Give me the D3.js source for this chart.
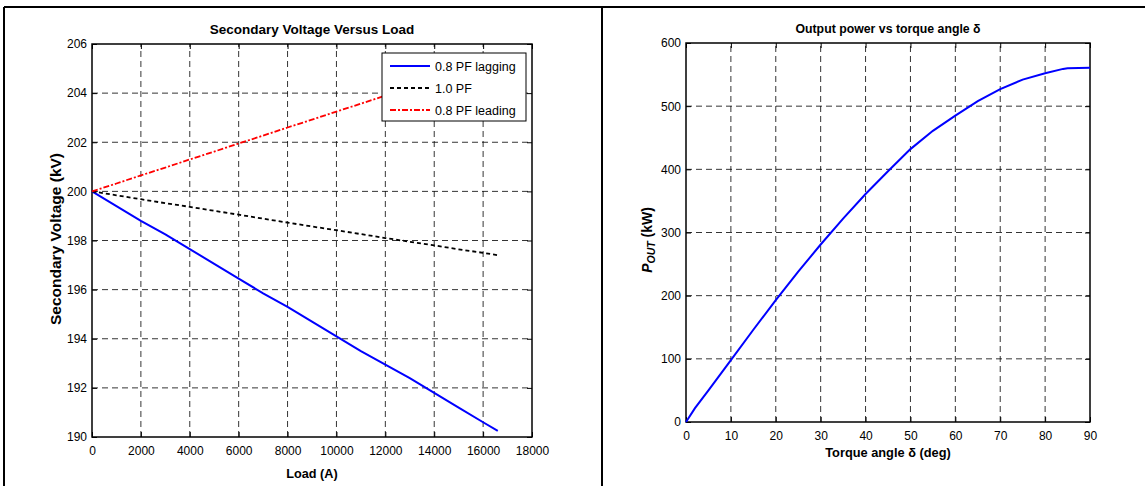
<!DOCTYPE html>
<html>
<head>
<meta charset="utf-8">
<script src="https://cdn.jsdelivr.net/npm/d3@7"></script>
<style>
  body{margin:0;background:#fff;}
  svg text{font-family:"Liberation Sans",Arial,sans-serif;}
</style>
</head>
<body>
<div id="chart"></div>
<script>
// left chart data (load in A, voltage in kV)
let loadVals=[0,1000,2000,3000,4000,5000,6000,7000,8000,9000,10000,11000,12000,13000,14000,15000,16000,16600];
let lagging=[200,199.4,198.8,198.25,197.65,197.05,196.45,195.85,195.3,194.7,194.1,193.5,192.95,192.4,191.8,191.2,190.6,190.25];
let unity=[200,199.84,199.68,199.52,199.37,199.21,199.05,198.89,198.73,198.57,198.42,198.26,198.1,197.95,197.8,197.64,197.5,197.4];
let leading=[200,200.32,200.65,200.97,201.3,201.62,201.95,202.27,202.6,202.92,203.25,203.57,203.9,204.2,204.5,204.8,205.15,205.35];
let loadTicks=[0,2000,4000,6000,8000,10000,12000,14000,16000,18000];
let voltTicks=[190,192,194,196,198,200,202,204,206];
let legendNames=["0.8 PF lagging","1.0 PF","0.8 PF leading"];

// right chart data (torque angle in deg, power in kW)
let deltaVals=[0,2,5,10,15,20,25,30,35,40,45,50,55,60,65,70,75,80,84,85,90];
let powerVals=[0,22,50,98,146,193,238,281,322,361,397,432,461,485,508,527,542,552,559,560,561];
let deltaTicks=[0,10,20,30,40,50,60,70,80,90];
let powerTicks=[0,100,200,300,400,500,600];

const W=1145,H=486;
let svg=d3.select("#chart").append("svg")
  .attr("width",W).attr("height",H);

// table-like frame round the two figures
svg.append("line").attr("x1",4).attr("x2",W).attr("y1",7).attr("y2",7)
  .attr("stroke","#000").attr("stroke-width",2);
svg.append("line").attr("x1",4).attr("x2",4).attr("y1",7).attr("y2",H)
  .attr("stroke","#000").attr("stroke-width",2);
svg.append("line").attr("x1",602).attr("x2",602).attr("y1",7).attr("y2",H)
  .attr("stroke","#000").attr("stroke-width",2);

function drawAxes(g,x,y,xt,yt){
  let x0=x.range()[0],x1=x.range()[1],y0=y.range()[0],y1=y.range()[1];
  // dashed grid
  g.append("g").selectAll("line").data(xt.slice(1,-1)).enter().append("line")
    .attr("x1",d=>x(d)).attr("x2",d=>x(d)).attr("y1",y0).attr("y2",y1)
    .attr("stroke","#000").attr("stroke-width",0.8).attr("stroke-dasharray","6,4");
  g.append("g").selectAll("line").data(yt.slice(1,-1)).enter().append("line")
    .attr("x1",x0).attr("x2",x1).attr("y1",d=>y(d)).attr("y2",d=>y(d))
    .attr("stroke","#000").attr("stroke-width",0.8).attr("stroke-dasharray","6,4");

  // ticks point inwards on all four sides, matlab style
  let bottom=g.append("g").attr("transform","translate(0,"+y0+")")
    .call(d3.axisBottom(x).tickValues(xt).tickSize(-5).tickPadding(9).tickFormat(d3.format("d")));
  let top=g.append("g").attr("transform","translate(0,"+y1+")")
    .call(d3.axisTop(x).tickValues(xt).tickSize(-5).tickFormat(""));
  let left=g.append("g").attr("transform","translate("+x0+",0)")
    .call(d3.axisLeft(y).tickValues(yt).tickSize(-5).tickPadding(5).tickFormat(d3.format("d")));
  let right=g.append("g").attr("transform","translate("+x1+",0)")
    .call(d3.axisRight(y).tickValues(yt).tickSize(-5).tickFormat(""));
  [bottom,top,left,right].forEach(a=>{
    a.select(".domain").remove();
    a.selectAll("line").attr("stroke","#000");
    a.selectAll("text").attr("font-size",12).attr("fill","#000")
      .attr("font-family","'Liberation Sans',Arial,sans-serif");
  });
  g.append("rect").attr("x",x0).attr("y",y1).attr("width",x1-x0).attr("height",y0-y1)
    .attr("fill","none").attr("stroke","#000").attr("stroke-width",1.5);
}

// ---- left chart
let xL=d3.scaleLinear().domain([0,18000]).range([92,532]);
let yL=d3.scaleLinear().domain([190,206]).range([437,44]);
let gL=svg.append("g");
drawAxes(gL,xL,yL,loadTicks,voltTicks);

let series=[
  {name:legendNames[0],vals:lagging,color:"#0000ff",dash:null,w:2},
  {name:legendNames[1],vals:unity,color:"#000",dash:"4,3",w:1.8},
  {name:legendNames[2],vals:leading,color:"#ff0000",dash:"6,2,2,2",w:1.8}
];
let lineL=d3.line().x((d,i)=>xL(loadVals[i])).y(d=>yL(d));
series.forEach(s=>{
  gL.append("path").attr("d",lineL(s.vals)).attr("fill","none")
    .attr("stroke",s.color).attr("stroke-width",s.w)
    .attr("stroke-dasharray",s.dash);
});

// legend
let leg=gL.append("g");
leg.append("rect").attr("x",382).attr("y",53).attr("width",144).attr("height",68)
  .attr("fill","#fff").attr("stroke","#000").attr("stroke-width",1);
series.forEach((s,i)=>{
  let yy=66+i*22;
  leg.append("line").attr("x1",390).attr("x2",430).attr("y1",yy).attr("y2",yy)
    .attr("stroke",s.color).attr("stroke-width",s.w).attr("stroke-dasharray",s.dash);
  leg.append("text").attr("x",435).attr("y",yy+4.5).attr("font-size",12.5).text(s.name);
});

gL.append("text").attr("x",312).attr("y",34).attr("text-anchor","middle")
  .attr("font-size",13.5).attr("font-weight","bold").text("Secondary Voltage Versus Load");
gL.append("text").attr("x",312).attr("y",478).attr("text-anchor","middle")
  .attr("font-size",12.7).attr("font-weight","bold").text("Load (A)");
gL.append("text").attr("transform","translate(61,239) rotate(-90)").attr("text-anchor","middle")
  .attr("font-size",15.5).attr("font-weight","bold").text("Secondary Voltage (kV)");

// ---- right chart
let xR=d3.scaleLinear().domain([0,90]).range([686,1090]);
let yR=d3.scaleLinear().domain([0,600]).range([422,43]);
let gR=svg.append("g");
drawAxes(gR,xR,yR,deltaTicks,powerTicks);

let lineR=d3.line().x((d,i)=>xR(deltaVals[i])).y(d=>yR(d));
gR.append("path").attr("d",lineR(powerVals)).attr("fill","none")
  .attr("stroke","#0000ff").attr("stroke-width",2);

gR.append("text").attr("x",888).attr("y",33).attr("text-anchor","middle")
  .attr("font-size",12.3).attr("font-weight","bold").text("Output power vs torque angle δ");
gR.append("text").attr("x",888).attr("y",457).attr("text-anchor","middle")
  .attr("font-size",12.8).attr("font-weight","bold").text("Torque angle δ (deg)");
let yt=gR.append("text").attr("transform","translate(652,240) rotate(-90)").attr("text-anchor","middle")
  .attr("font-size",14).attr("font-weight","bold");
yt.append("tspan").attr("font-style","italic").text("P");
yt.append("tspan").attr("font-style","italic").attr("font-size",10.5).attr("dy",3).text("OUT");
yt.append("tspan").attr("dy",-3).text(" (kW)");
</script>
</body>
</html>
